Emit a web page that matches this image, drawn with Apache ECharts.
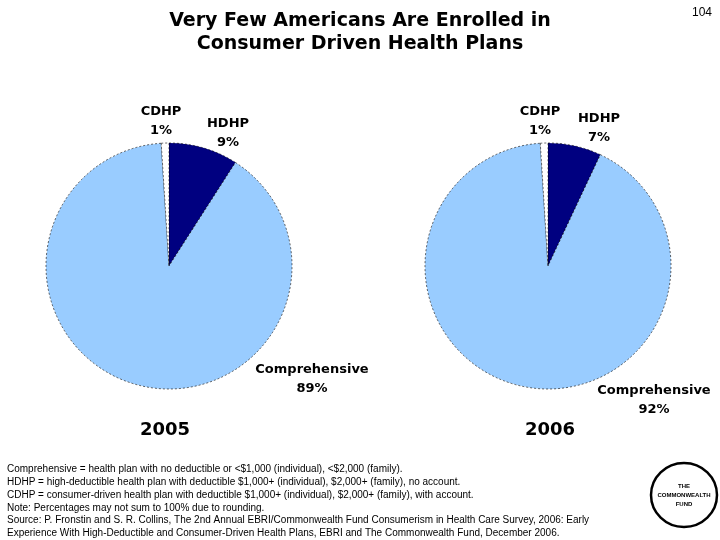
<!DOCTYPE html>
<html>
<head>
<meta charset="utf-8">
<script src="https://cdn.jsdelivr.net/npm/echarts@6/dist/echarts.min.js"></script>
<style>
html,body{margin:0;padding:0;background:#fff;}
#chart{width:720px;height:540px;}
</style>
</head>
<body>
<div id="chart"></div>
<script>
// ---- data ----
const categories = ['HDHP', 'Comprehensive', 'CDHP'];
const years = ['2005', '2006'];
const values2005 = [9, 89, 1];
const values2006 = [7, 92, 1];
const titleLines = ['Very Few Americans Are Enrolled in', 'Consumer Driven Health Plans'];
const pageNumber = '104';
const footnotes = [
  'Comprehensive = health plan with no deductible or <$1,000 (individual), <$2,000 (family).',
  'HDHP = high-deductible health plan with deductible $1,000+ (individual), $2,000+ (family), no account.',
  'CDHP = consumer-driven health plan with deductible $1,000+ (individual), $2,000+ (family), with account.',
  'Note: Percentages may not sum to 100% due to rounding.',
  'Source: P. Fronstin and S. R. Collins, The 2nd Annual EBRI/Commonwealth Fund Consumerism in Health Care Survey, 2006: Early',
  'Experience With High-Deductible and Consumer-Driven Health Plans, EBRI and The Commonwealth Fund, December 2006.'
];

// ---- styling / layout ----
const colors = ['#000080', '#99CCFF', '#FFFFFF'];
const centers = [[169, 266], [548, 266]];
const labelPos = [
  [[228, 133], [312, 379], [161, 121]],
  [[599, 128], [654, 400], [540, 121]]
];
const yearPos = [[165, 432], [550, 432]];

const chart = echarts.init(document.getElementById('chart'));

function makeSeries(vals, idx) {
  return {
    type: 'pie',
    radius: 123,
    center: centers[idx],
    startAngle: 90,
    clockwise: true,
    avoidLabelOverlap: false,
    silent: true,
    animation: false,
    itemStyle: { borderColor: '#000', borderWidth: 0.6, borderType: [2, 2] },
    label: {
      show: true,
      formatter: '{b}\n{c}%',
      fontFamily: 'DejaVu Sans',
      fontWeight: 'bold',
      fontSize: 13,
      lineHeight: 19,
      color: '#000',
      align: 'center'
    },
    labelLine: { show: false },
    labelLayout: function (p) {
      const pos = labelPos[idx][p.dataIndex];
      return { x: pos[0], y: pos[1], align: 'center', verticalAlign: 'middle' };
    },
    data: categories.map((c, i) => ({ name: c, value: vals[i], itemStyle: { color: colors[i] } }))
  };
}

chart.setOption({
  backgroundColor: '#fff',
  title: [
    {
      text: titleLines.join('\n'),
      left: 360, top: 10, textAlign: 'center', padding: 0,
      textStyle: { fontFamily: 'DejaVu Sans', fontWeight: 'bold', fontSize: 19, lineHeight: 23, color: '#000' }
    },
    {
      text: pageNumber, left: 712, top: 7, textAlign: 'right', padding: 0,
      textStyle: { fontFamily: 'Liberation Sans', fontWeight: 'normal', fontSize: 12, color: '#000' }
    }
  ].concat(years.map((y, i) => ({
    text: y, left: yearPos[i][0], top: yearPos[i][1] - 11, textAlign: 'center', padding: 0,
    textStyle: { fontFamily: 'DejaVu Sans', fontWeight: 'bold', fontSize: 18, color: '#000' }
  }))),
  series: [makeSeries(values2005, 0), makeSeries(values2006, 1)],
  graphic: [
    {
      type: 'text', left: 7, top: 463,
      style: {
        text: footnotes.join('\n'),
        font: '10px "Liberation Sans"',
        lineHeight: 12.8,
        fill: '#000'
      }
    },
    {
      type: 'ellipse', shape: { cx: 684, cy: 495, rx: 33, ry: 32 },
      style: { fill: '#fff', stroke: '#000', lineWidth: 2.5 }
    },
    {
      type: 'text', x: 684, y: 495,
      style: {
        text: 'THE\nCOMMONWEALTH\nFUND',
        font: 'bold 6px "Liberation Sans"',
        lineHeight: 9,
        align: 'center', verticalAlign: 'middle',
        fill: '#000'
      }
    }
  ]
});
</script>
</body>
</html>
